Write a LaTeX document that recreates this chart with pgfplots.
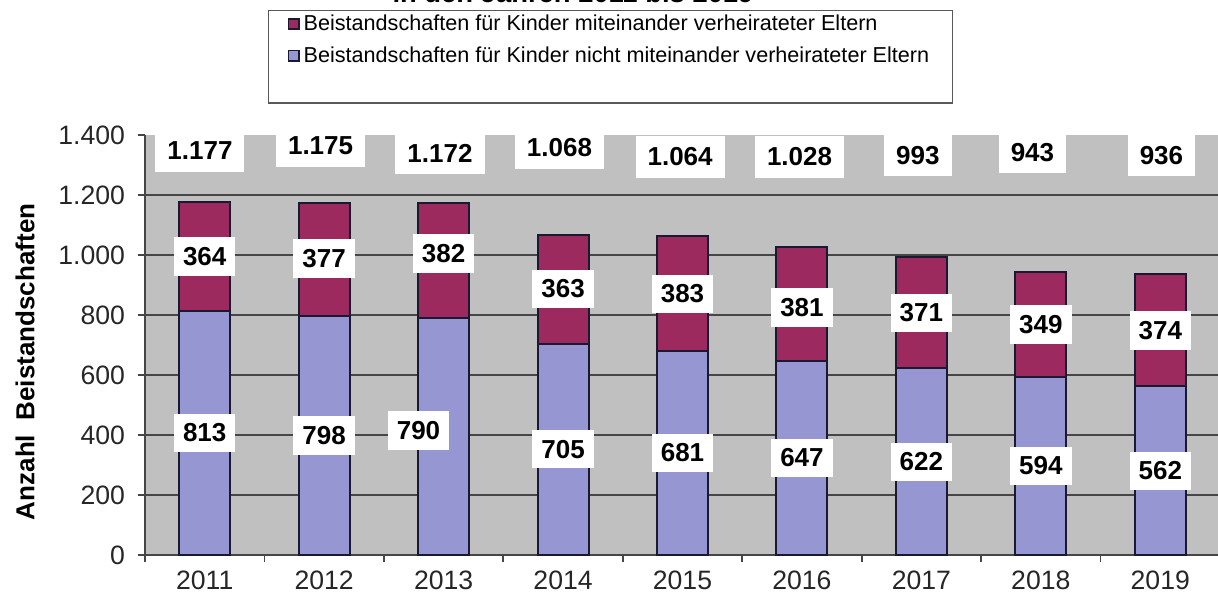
\documentclass[border=0pt]{standalone}
\usepackage{fontspec}
\setmainfont{Liberation Sans}
\usepackage{pgfplots}
\usepackage{pgfplotstable}
\pgfplotsset{compat=1.18}
\usetikzlibrary{calc}

\definecolor{barred}{RGB}{156,42,94}
\definecolor{barblue}{RGB}{150,150,210}
\definecolor{plotgray}{RGB}{192,192,192}
\definecolor{edge}{RGB}{25,25,50}
\definecolor{gridcol}{RGB}{70,70,70}

% year index, total, not-married part
\pgfplotstableread{
x total blue
0 1177 813
1 1175 798
2 1172 790
3 1068 705
4 1064 681
5 1028 647
6 993 622
7 943 594
8 936 562
}\bars

\pgfplotstableread{
x y label
0 406.5 813
1 399 798
1.79 415 790
3 352.5 705
4 340.5 681
5 323.5 647
6 311 622
7 297 594
8 281 562
}\bluelabels

\pgfplotstableread{
x y label
0 995 364
1 988 377
2 1005 382
3 886.5 363
4 870 383
5 825 381
6 807.5 371
7 768.5 349
8 749 374
}\redlabels

\pgfplotstableread{
x y label
-0.04 1347 1.177
0.97 1363 1.175
1.97 1340 1.172
2.97 1357 1.068
3.98 1327 1.064
4.98 1327 1.028
5.97 1333 993
6.93 1343 943
8.01 1333 936
}\totallabels

\newcommand{\lblfont}{\fontsize{13}{15}\selectfont\bfseries}

\begin{document}
\begin{tikzpicture}
\begin{axis}[
    scale only axis,
    width=537.5pt, height=210pt,
    xmin=-0.5, xmax=8.5, ymin=0, ymax=1400,
    axis background/.style={fill=plotgray},
    axis x line*=bottom, axis y line*=left,
    axis line style={draw=gridcol, line width=0.9pt},
    tick align=outside,
    major tick length=3.5pt,
    ytick={0,200,...,1200},
    yticklabels={0,200,400,600,800,1.000,1.200},
    extra y ticks={1400},
    extra y tick labels={1.400},
    extra y tick style={grid=none},
    ymajorgrids,
    major grid style={draw=gridcol, line width=0.9pt},
    xtick={0,...,8},
    xticklabels={2011,2012,2013,2014,2015,2016,2017,2018,2019},
    major x tick style={draw=none},
    extra x ticks={-0.5,0.5,...,8.5},
    extra x tick labels={},
    extra x tick style={major x tick style={draw=gridcol, line width=0.9pt}, xmajorgrids=false},
    tick style={draw=gridcol, line width=0.9pt},
    ticklabel style={font=\fontsize{13.3}{15}\selectfont, text=black!85},
    yticklabel style={xshift=-3pt},
    xticklabel style={yshift=-1pt},
    ylabel={Anzahl\ \ Beistandschaften},
    ylabel style={at={(rel axis cs:-0.1116,0.46)}, anchor=center, font=\fontsize{13}{15}\selectfont\bfseries},
    legend style={at={(rel axis cs:0.1144,1.2976)}, anchor=north west,
        draw=black!65, line width=0.7pt,
        font=\fontsize{10.8}{12}\selectfont,
        inner xsep=9.5pt, inner ysep=0pt, row sep=2.5pt},
    legend cell align=left,
    sqlegend/.style={legend image code/.code={
        \draw[##1, line width=0.8pt] (0pt,-2.6pt) rectangle (5.2pt,2.6pt);}},
    lbl/.style={forget plot, draw=none, mark=none,
        nodes near coords, point meta=explicit symbolic,
        nodes near coords align={center},
        nodes near coords style={anchor=center, fill=white, text=black,
            font=\lblfont, inner xsep=4.5pt, inner ysep=5pt}},
]
\coordinate (O) at (rel axis cs:0,0);
\coordinate (T) at (rel axis cs:0,1);

\addplot[ybar, bar width=25.5pt, bar shift=0pt, fill=barred, draw=edge,
    line width=1pt, sqlegend] table[x=x, y=total] {\bars};
\addlegendentry{Beistandschaften für Kinder miteinander verheirateter Eltern}

\addplot[ybar, bar width=25.5pt, bar shift=0pt, fill=barblue, draw=edge,
    line width=1pt, sqlegend] table[x=x, y=blue] {\bars};
\addlegendentry{Beistandschaften für Kinder nicht miteinander verheirateter Eltern}

\addlegendimage{empty legend}
\addlegendentry{\rule{0pt}{9pt}}

\addplot[lbl] table[x=x, y=y, meta=label] {\bluelabels};
\addplot[lbl] table[x=x, y=y, meta=label] {\redlabels};
\addplot[lbl, nodes near coords style={inner xsep=6pt, inner ysep=6pt}]
    table[x=x, y=y, meta=label] {\totallabels};
\end{axis}

\node[anchor=base, font=\fontsize{13.7}{16}\selectfont\bfseries]
    at ($(T)+(214pt,66pt)$) {in den Jahren 2011 bis 2019};

\pgfresetboundingbox
\path[use as bounding box] ($(O)+(-72.5pt,-20.5pt)$) rectangle ($(T)+(536.5pt,67.5pt)$);
\end{tikzpicture}
\end{document}
